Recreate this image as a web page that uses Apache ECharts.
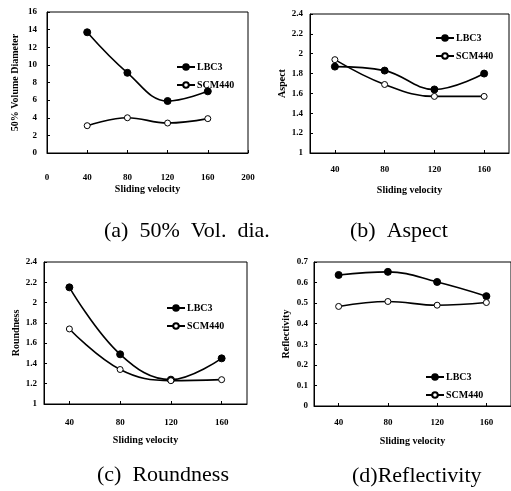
<!DOCTYPE html>
<html><head><meta charset="utf-8">
<script src="https://cdn.jsdelivr.net/npm/echarts@6/dist/echarts.min.js"></script>
<style>html,body{margin:0;padding:0;background:#fff}#c{width:511px;height:491px}</style>
</head><body><div id="c"></div>
<script>
// Data
const velocityA = [40, 80, 120, 160];
const categories = ['40', '80', '120', '160'];
const volDiaLBC3 = [13.7, 9.1, 5.9, 7.0];
const volDiaSCM440 = [3.1, 4.0, 3.4, 3.9];
const aspectLBC3 = [1.87, 1.83, 1.64, 1.80];
const aspectSCM440 = [1.94, 1.69, 1.57, 1.57];
const roundLBC3 = [2.15, 1.49, 1.24, 1.45];
const roundSCM440 = [1.74, 1.34, 1.23, 1.24];
const reflLBC3 = [0.637, 0.652, 0.603, 0.534];
const reflSCM440 = [0.484, 0.508, 0.490, 0.503];
const captions = ['(a)  50%  Vol.  dia.', '(b)  Aspect', '(c)  Roundness', '(d)Reflectivity'];

const F = 'Liberation Serif';
const tick = {fontFamily: F, fontWeight: 'bold', fontSize: 9, color: '#000'};
const nameStyle = {fontFamily: F, fontWeight: 'bold', fontSize: 10, color: '#000'};
const axLine = {show: true, lineStyle: {color: '#000', width: 1}};

function xCat(gi, margin, gap) {
  return {type: 'category', gridIndex: gi, data: categories, boundaryGap: true,
    axisLine: axLine, axisTick: {show: true, inside: true, alignWithLabel: true, length: 3, lineStyle: {color: '#000'}},
    axisLabel: Object.assign({margin: margin}, tick), splitLine: {show: false},
    name: 'Sliding velocity', nameLocation: 'middle', nameGap: gap, nameTextStyle: nameStyle};
}
function yVal(gi, min, max, interval, name, gap, margin) {
  return {type: 'value', gridIndex: gi, min: min, max: max, interval: interval,
    axisLine: axLine, axisTick: {show: true, inside: true, length: 3, lineStyle: {color: '#000'}},
    axisLabel: Object.assign({margin: margin}, tick), splitLine: {show: false},
    name: name, nameLocation: 'middle', nameGap: gap, nameTextStyle: nameStyle};
}
function s(name, xi, data, filled) {
  return {type: 'line', name: name, xAxisIndex: xi, yAxisIndex: xi, data: data, smooth: 0.4,
    symbol: 'circle', symbolSize: filled ? 7 : 6,
    itemStyle: {color: filled ? '#000' : '#fff', borderColor: '#000', borderWidth: 1},
    lineStyle: {color: '#000', width: 1.6}};
}
function legend(left, top) {
  return {data: ['LBC3', 'SCM440'], orient: 'vertical', left: left, top: top, itemWidth: 18, itemHeight: 7, itemGap: 8,
    textStyle: {fontFamily: F, fontWeight: 'bold', fontSize: 10, color: '#000', padding: [0, 0, 0, -3]}, selectedMode: false};
}
function cap(text, left, top) {
  return {text: text, left: left, top: top, padding: 0,
    textStyle: {fontFamily: F, fontWeight: 'normal', fontSize: 22, color: '#000'}};
}
const grid = (l, t, w, h) => ({left: l, top: t, width: w, height: h, show: true, borderColor: '#000', borderWidth: 1, backgroundColor: 'transparent'});

const chart = echarts.init(document.getElementById('c'), null, {renderer: 'canvas'});
chart.setOption({
  animation: false,
  backgroundColor: '#fff',
  title: [cap(captions[0], 104, 220), cap(captions[1], 350, 220), cap(captions[2], 97, 464), cap(captions[3], 352, 465)],
  grid: [grid(47, 12, 201, 141), grid(310, 14, 199, 139), grid(44, 262, 203, 142), grid(314, 262, 200, 144)],
  legend: [legend(171, 57), legend(430, 28), legend(161, 298), legend(420, 367)],
  xAxis: [
    {type: 'value', gridIndex: 0, min: 0, max: 200, interval: 40, axisLine: axLine,
      axisTick: {show: true, inside: true, length: 3, lineStyle: {color: '#000'}},
      axisLabel: Object.assign({margin: 20}, tick), splitLine: {show: false},
      name: 'Sliding velocity', nameLocation: 'middle', nameGap: 31, nameTextStyle: nameStyle},
    xCat(1, 12, 32), xCat(2, 14, 31), xCat(3, 12, 30)
  ],
  yAxis: [
    yVal(0, 0, 16, 2, '50% Volume Diameter', 27, 10),
    yVal(1, 1, 2.4, 0.2, 'Aspect', 22, 7),
    yVal(2, 1, 2.4, 0.2, 'Roundness', 23, 7),
    yVal(3, 0, 0.7, 0.1, 'Reflectivity', 23, 6)
  ],
  series: [
    s('LBC3', 0, velocityA.map((v, i) => [v, volDiaLBC3[i]]), true),
    s('SCM440', 0, velocityA.map((v, i) => [v, volDiaSCM440[i]]), false),
    s('LBC3', 1, aspectLBC3, true), s('SCM440', 1, aspectSCM440, false),
    s('LBC3', 2, roundLBC3, true), s('SCM440', 2, roundSCM440, false),
    s('LBC3', 3, reflLBC3, true), s('SCM440', 3, reflSCM440, false)
  ]
});
</script></body></html>
